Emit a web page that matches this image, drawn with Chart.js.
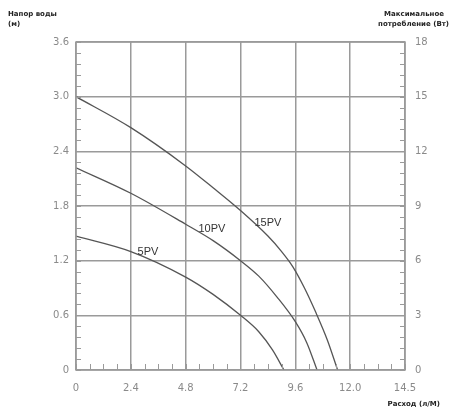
<!DOCTYPE html>
<html>
<head>
<meta charset="utf-8">
<script src="https://cdn.jsdelivr.net/npm/chart.js@4"></script>
<style>
  html, body { margin: 0; padding: 0; background: #fff; }
  #wrap { width: 452px; height: 408px; }
</style>
</head>
<body>
<div id="wrap"><canvas id="pumpChart" width="452" height="408"></canvas></div>
<script>
// values
const xTickLabels = ["0", "2.4", "4.8", "7.2", "9.6", "12.0", "14.5"];
const yTickLabels = ["0", "0.6", "1.2", "1.8", "2.4", "3.0", "3.6"];
const y2TickLabels = ["0", "3", "6", "9", "12", "15", "18"];

const pv15 = [
  {x: 0, y: 3.0}, {x: 2.4, y: 2.66}, {x: 4.8, y: 2.24}, {x: 6.0, y: 2.0},
  {x: 7.2, y: 1.75}, {x: 8.4, y: 1.47}, {x: 9.0, y: 1.3}, {x: 9.5, y: 1.13},
  {x: 10.0, y: 0.9}, {x: 10.5, y: 0.63}, {x: 11.0, y: 0.33}, {x: 11.45, y: 0}
];
const pv10 = [
  {x: 0, y: 2.22}, {x: 2.4, y: 1.94}, {x: 4.8, y: 1.6}, {x: 6.0, y: 1.42},
  {x: 7.2, y: 1.2}, {x: 8.0, y: 1.03}, {x: 8.8, y: 0.8}, {x: 9.6, y: 0.53},
  {x: 10.1, y: 0.3}, {x: 10.55, y: 0}
];
const pv5 = [
  {x: 0, y: 1.47}, {x: 2.4, y: 1.3}, {x: 4.8, y: 1.02}, {x: 6.0, y: 0.83},
  {x: 7.2, y: 0.6}, {x: 8.0, y: 0.42}, {x: 8.6, y: 0.22}, {x: 9.1, y: 0}
];
const curveLabels = [
  {text: "5PV", x: 3.15, y: 1.3},
  {text: "10PV", x: 5.95, y: 1.55},
  {text: "15PV", x: 8.4, y: 1.61}
];

const gridColor = "#9a9a9a";
const tickColor = "#8a8a8a";

// minor ticks drawn inside the frame, plus the frame itself and the texts
const decorations = {
  id: "decorations",
  afterDraw(chart) {
    const ctx = chart.ctx;
    const a = chart.chartArea;
    const xs = chart.scales.x, ys = chart.scales.y, y2 = chart.scales.y2;
    ctx.save();
    ctx.strokeStyle = gridColor;
    ctx.lineWidth = 1;
    ctx.beginPath();
    for (let v = 0; v <= 3.6001; v += 0.12) {
      const p = Math.round(ys.getPixelForValue(v)) + 0.5;
      ctx.moveTo(a.left, p); ctx.lineTo(a.left + 5, p);
    }
    for (let v = 0; v <= 18.001; v += 0.6) {
      const p = Math.round(y2.getPixelForValue(v)) + 0.5;
      ctx.moveTo(a.right, p); ctx.lineTo(a.right - 5, p);
    }
    for (let v = 0; v <= 14.401; v += 0.6) {
      const p = Math.round(xs.getPixelForValue(v)) + 0.5;
      ctx.moveTo(p, a.bottom); ctx.lineTo(p, a.bottom - 6);
    }
    ctx.stroke();
    ctx.lineWidth = 1.5;
    ctx.strokeRect(a.left, a.top, a.right - a.left, a.bottom - a.top);

    ctx.fillStyle = "#333";
    ctx.font = "11px 'Liberation Sans', Arial, sans-serif";
    ctx.textAlign = "center";
    ctx.textBaseline = "middle";
    curveLabels.forEach(l => {
      ctx.fillText(l.text, xs.getPixelForValue(l.x), ys.getPixelForValue(l.y));
    });

    ctx.fillStyle = "#222";
    ctx.font = "bold 7px 'DejaVu Sans', sans-serif";
    ctx.textAlign = "left";
    ctx.fillText("Напор воды", 8, 14);
    ctx.fillText("(м)", 8, 24);
    ctx.textAlign = "right";
    ctx.fillText("Максимальное", 444, 14);
    ctx.fillText("потребление (Вт)", 449, 24);
    ctx.fillText("Расход (л/М)", 440, 404);
    ctx.restore();
  }
};

function lineSet(label, pts) {
  return {
    label: label,
    data: pts,
    borderColor: "#555",
    borderWidth: 1.3,
    pointRadius: 0,
    fill: false,
    cubicInterpolationMode: "monotone"
  };
}

new Chart(document.getElementById("pumpChart"), {
  type: "line",
  data: {
    datasets: [lineSet("15PV", pv15), lineSet("10PV", pv10), lineSet("5PV", pv5)]
  },
  options: {
    responsive: false,
    animation: false,
    layout: { padding: { top: 42, left: 0, right: 0, bottom: 0 } },
    plugins: { legend: { display: false }, tooltip: { enabled: false } },
    scales: {
      x: {
        type: "linear",
        min: 0, max: 14.4,
        afterBuildTicks: s => { s.ticks = xTickLabels.map((t, i) => ({value: i * 2.4})); },
        afterFit: s => { s.height = 38; },
        grid: { color: gridColor, lineWidth: 1.5, drawTicks: false },
        border: { display: false },
        ticks: {
          color: tickColor, padding: 12,
          font: { family: "'DejaVu Sans', sans-serif", size: 10 },
          callback: (v, i) => xTickLabels[i]
        }
      },
      y: {
        min: 0, max: 3.6,
        afterBuildTicks: s => { s.ticks = yTickLabels.map((t, i) => ({value: i * 0.6})); },
        afterFit: s => { s.width = 76; },
        grid: { color: gridColor, lineWidth: 1.5, drawTicks: false },
        border: { display: false },
        ticks: {
          color: tickColor, padding: 7,
          font: { family: "'DejaVu Sans', sans-serif", size: 10 },
          callback: (v, i) => yTickLabels[i]
        }
      },
      y2: {
        position: "right",
        min: 0, max: 18,
        afterBuildTicks: s => { s.ticks = y2TickLabels.map((t, i) => ({value: i * 3})); },
        afterFit: s => { s.width = 47; },
        grid: { display: false, drawTicks: false },
        border: { display: false },
        ticks: {
          color: tickColor, padding: 10,
          font: { family: "'DejaVu Sans', sans-serif", size: 10 },
          callback: (v, i) => y2TickLabels[i]
        }
      }
    }
  },
  plugins: [decorations]
});
</script>
</body>
</html>
